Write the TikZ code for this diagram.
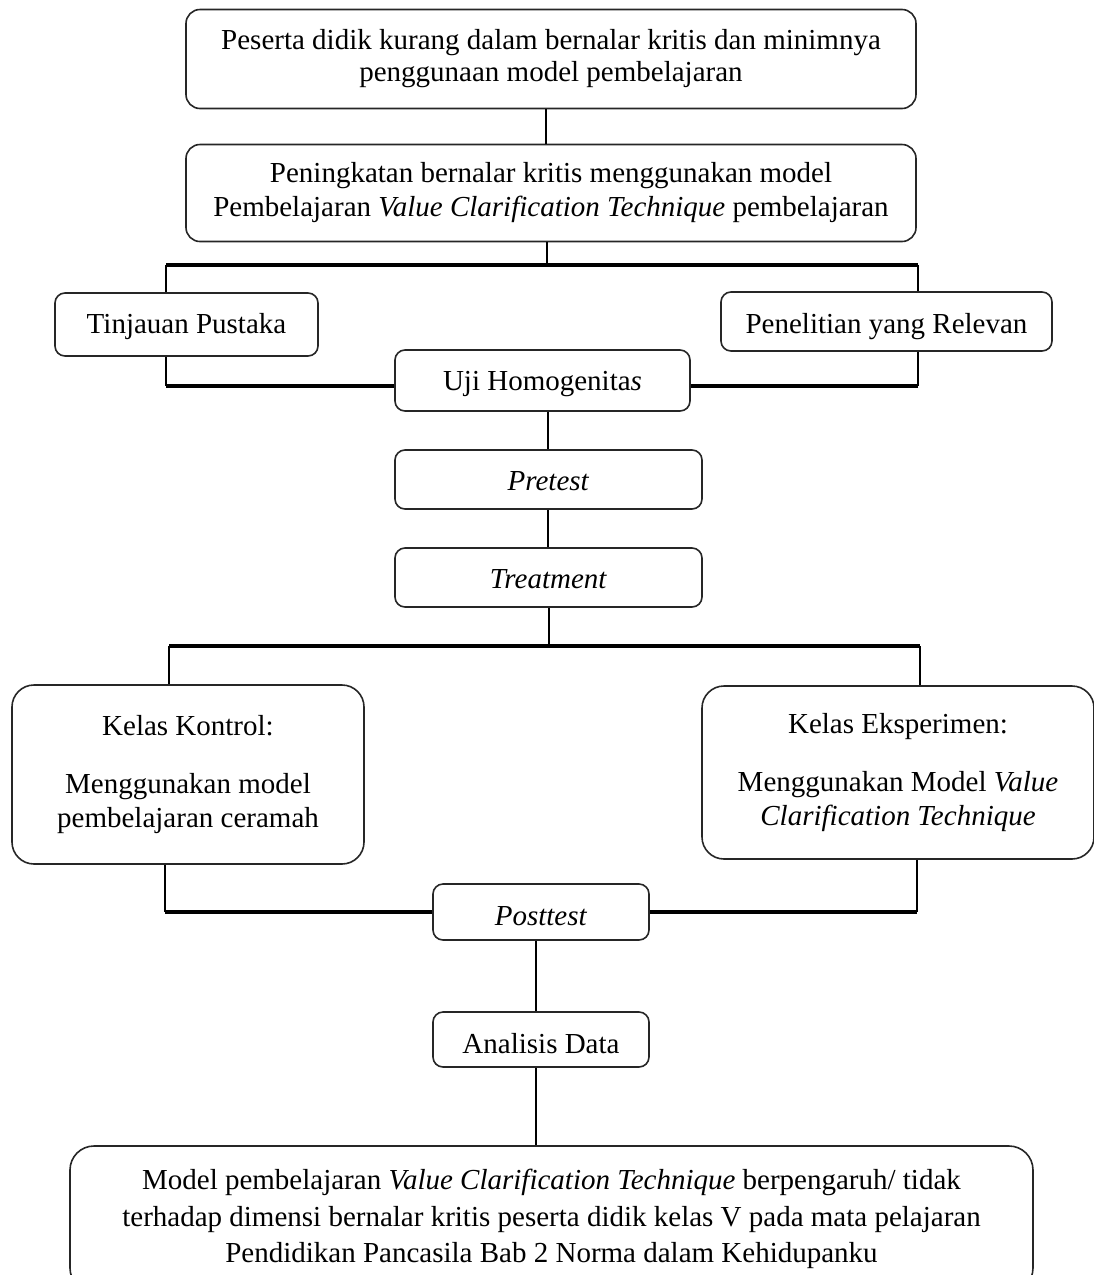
\documentclass[tikz,border=0pt]{standalone}
\usepackage{fontspec}
\setmainfont{Liberation Serif}
\tikzset{
  box/.style={draw=black!85, line width=0.8pt, rounded corners=5pt, align=center, inner sep=0pt,
              font=\fontsize{14.5}{17}\selectfont},
  single/.style={text height=#1, text depth=3pt},
  link/.style={line width=1pt, black},
  busline/.style={line width=1.7pt, black},
}
\begin{document}
\begin{tikzpicture}[x=0.5pt,y=-0.5pt]
\useasboundingbox (0,0) rectangle (1093,1275);

% boxes
\node[box, minimum width=365pt, minimum height=49.5pt, rounded corners=7pt, font=\fontsize{14.5}{16}\selectfont] (b1) at (551,59)
  {Peserta didik kurang dalam bernalar kritis dan minimnya\\penggunaan model pembelajaran};
\node[box, minimum width=365pt, minimum height=48.5pt, rounded corners=7pt] (b2) at (551,193)
  {Peningkatan bernalar kritis menggunakan model\\Pembelajaran \textit{Value Clarification Technique} pembelajaran};
\node[box, single=11.5pt, minimum width=131.5pt, minimum height=31.5pt] (tp) at (186.5,324.5) {Tinjauan Pustaka};
\node[box, single=14.5pt, minimum width=165.5pt, minimum height=29.5pt] (pr) at (886.5,321.5) {Penelitian yang Relevan};
\node[box, single=12.5pt, minimum width=147.5pt, minimum height=30.5pt] (uji) at (542.5,380.5) {Uji Homogenita\textit{s}};
\node[box, single=13.5pt, minimum width=153.5pt, minimum height=29.5pt] (pre) at (548.5,479.5) {\textit{Pretest}};
\node[box, single=13.5pt, minimum width=153.5pt, minimum height=29.5pt] (trt) at (548.5,577.5) {\textit{Treatment}};
\node[box, minimum width=176pt, minimum height=89.5pt, rounded corners=11pt] (kk) at (188,774.5)
  {Kelas Kontrol:\\[12pt]Menggunakan model\\pembelajaran ceramah};
\node[box, minimum width=196pt, minimum height=86.5pt, rounded corners=11pt] (ke) at (898,772.5)
  {Kelas Eksperimen:\\[12pt]Menggunakan Model \textit{Value}\\\textit{Clarification Technique}};
\node[box, single=16pt, minimum width=108pt, minimum height=28pt] (post) at (541,912) {\textit{Posttest}};
\node[box, single=16.5pt, minimum width=108pt, minimum height=27.5pt] (ad) at (541,1039.5) {Analisis Data};
\node[box, minimum width=481.5pt, minimum height=73pt, rounded corners=12pt, font=\fontsize{14.5}{18.3}\selectfont] (fin) at (551.5,1219)
  {Model pembelajaran \textit{Value Clarification Technique} berpengaruh/ tidak\\
   terhadap dimensi bernalar kritis peserta didik kelas V pada mata pelajaran\\
   Pendidikan Pancasila Bab 2 Norma dalam Kehidupanku};

% junction points
\coordinate (t1) at (547,265);
\coordinate (l1) at (166,265);
\coordinate (r1) at (918,265);
\coordinate (jl1) at (166,386);
\coordinate (jr1) at (918,386);
\coordinate (t2) at (549,646);
\coordinate (l2) at (169,646);
\coordinate (r2) at (920,646);
\coordinate (jl2) at (165,912);
\coordinate (jr2) at (917,912);
\coordinate (cx) at (536,0);

% connectors
\draw[link] (b1.south -| 546,0) -- (b2.north -| 546,0);
\draw[link] (b2.south -| t1) -- (t1);
\draw[busline] (l1) -- (r1);
\draw[link] (l1) -- (l1 |- tp.north);
\draw[link] (r1) -- (r1 |- pr.north);
\draw[link] (l1 |- tp.south) -- (jl1);
\draw[busline] (jl1) -- (jl1 -| uji.west);
\draw[link] (r1 |- pr.south) -- (jr1);
\draw[busline] (jr1) -- (jr1 -| uji.east);
\draw[link] (uji.south -| 548,0) -- (pre.north -| 548,0);
\draw[link] (pre.south -| 548,0) -- (trt.north -| 548,0);
\draw[link] (trt.south -| t2) -- (t2);
\draw[busline] (l2) -- (r2);
\draw[link] (l2) -- (l2 |- kk.north);
\draw[link] (r2 |- ke.north) -- (r2);
\draw[link] (kk.south -| jl2) -- (jl2);
\draw[busline] (jl2) -- (post.west);
\draw[link] (ke.south -| jr2) -- (jr2);
\draw[busline] (jr2) -- (post.east);
\draw[link] (post.south -| cx) -- (ad.north -| cx);
\draw[link] (ad.south -| cx) -- (fin.north -| cx);
\end{tikzpicture}
\end{document}
